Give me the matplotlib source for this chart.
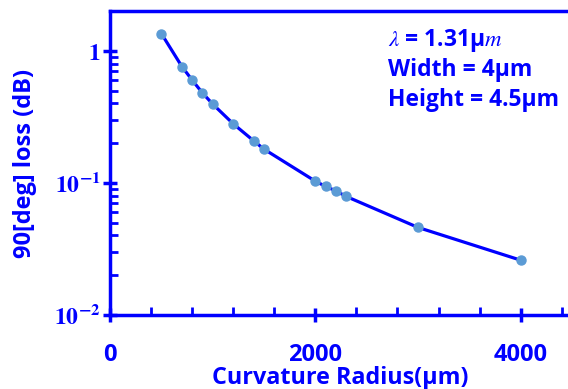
import matplotlib.pyplot as plt
from matplotlib.ticker import FixedLocator, FixedFormatter, LogLocator, MultipleLocator

# data
radius = [500, 700, 800, 900, 1000, 1200, 1400, 1500, 2000, 2100, 2200, 2300, 3000, 4000]
loss = [1.35, 0.76, 0.60, 0.48, 0.395, 0.28, 0.208, 0.18, 0.103, 0.094, 0.087, 0.079, 0.046, 0.026]

y_ticks = [0.01, 0.1, 1]
y_tick_labels = [r'$\mathbf{10^{-2}}$', r'$\mathbf{10^{-1}}$', r'$\mathbf{1}$']
x_ticks = [0, 2000, 4000]

blue = '#0000FF'
plt.rcParams['font.family'] = ['Open Sans', 'DejaVu Sans']
plt.rcParams['mathtext.fontset'] = 'stix'

fig = plt.figure(figsize=(5.68, 3.89), dpi=100)
ax = fig.add_axes([0.1937, 0.1902, 0.8134, 0.7815])

ax.plot(radius, loss, color=blue, lw=2.3, marker='o', ms=6.5,
        mfc='#5B9BD5', mec='#5B9BD5', zorder=3)

ax.set_yscale('log')
ax.set_xlim(0, 4500)
ax.set_ylim(0.01, 2)

ax.yaxis.set_major_locator(FixedLocator(y_ticks))
ax.yaxis.set_major_formatter(FixedFormatter(y_tick_labels))
ax.yaxis.set_minor_locator(LogLocator(base=10, subs=range(2, 10)))
ax.yaxis.set_minor_formatter(FixedFormatter([]))
ax.xaxis.set_major_locator(FixedLocator(x_ticks))
ax.xaxis.set_minor_locator(MultipleLocator(400))

for s in ax.spines.values():
    s.set_color(blue)
    s.set_linewidth(2.5)

ax.tick_params(which='major', direction='inout', length=10, width=2.5,
               color=blue, labelcolor=blue, labelsize=17)
ax.tick_params(which='minor', direction='in', length=6, width=2, color=blue)
ax.tick_params(axis='x', which='major', pad=15)
ax.tick_params(axis='y', which='major', pad=2)
for lab in ax.get_xticklabels():
    lab.set_fontweight('bold')

ax.set_xlabel('Curvature Radius(μm)', color=blue, fontsize=16.8, fontweight='bold')
ax.xaxis.set_label_coords(0.498, -0.207)
ax.xaxis.label.set_va('center')
fig.text(0.044, 0.58, '90[deg] loss (dB)', color=blue, fontsize=17, fontweight='bold',
         rotation=90, ha='center', va='center')

fig.text(0.683, 0.897, r'$\mathit{\lambda}$ = 1.31μ$\mathit{m}$', color=blue, fontsize=16.5,
         fontweight='bold', va='center')
fig.text(0.683, 0.82, 'Width = 4μm', color=blue, fontsize=16.5, fontweight='bold', va='center')
fig.text(0.683, 0.743, 'Height = 4.5μm', color=blue, fontsize=16.5, fontweight='bold', va='center')

fig.savefig('out.png', dpi=100)
